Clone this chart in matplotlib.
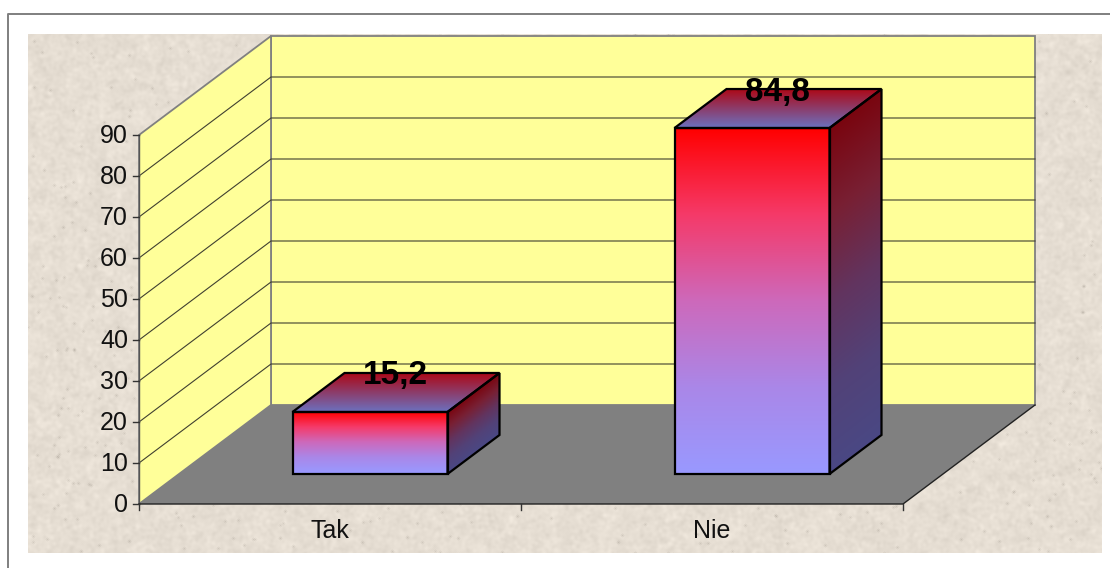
import numpy as np
import matplotlib
matplotlib.use("Agg")
import matplotlib.pyplot as plt
from matplotlib.patches import Polygon, Rectangle

categories = ["Tak", "Nie"]
values = [15.2, 84.8]
value_labels = ["15,2", "84,8"]
y_ticks = [0, 10, 20, 30, 40, 50, 60, 70, 80, 90]

plt.rcParams['font.family'] = ['Liberation Sans', 'DejaVu Sans']

# chart geometry in image pixels
X0, X1 = 139, 903
Y0, Y_SCALE = 504, 4.1
DX, DY = 132, -99
BAR_SCALE = 4.08
BAR_DX, BAR_DY = 52, -39
BAR_FRONT_DX, BAR_FRONT_DY = 40, -30
BAR_WIDTH = 155

# gradient stops, evenly spaced from start to end
FRONT = np.array([[255, 0, 0], [245, 58, 105], [205, 105, 187], [170, 135, 232], [153, 153, 255]])
TOP = np.array([[172, 10, 25], [108, 112, 190]])
SIDE = np.array([[122, 5, 15], [120, 32, 52], [98, 52, 95], [82, 66, 120], [74, 72, 132]])


def ypix(v):
    return Y0 - v * Y_SCALE


def gradient_face(ax, pts, t_func, stops):
    xs, ys = zip(*pts)
    x_min, x_max, y_min, y_max = min(xs), max(xs), min(ys), max(ys)
    gx, gy = np.meshgrid(np.arange(x_min, x_max + 1), np.arange(y_min, y_max + 1))
    t = np.clip(t_func(gx, gy), 0, 1)
    pos = np.linspace(0, 1, len(stops))
    img = np.dstack([np.interp(t, pos, stops[:, c]) for c in range(3)]) / 255
    im = ax.imshow(img, extent=(x_min, x_max, y_max, y_min), aspect="auto", zorder=3)
    im.set_clip_path(Polygon(pts, transform=ax.transData))
    ax.add_patch(Polygon(pts, closed=True, fill=False, ec="black", lw=1.6, zorder=4))


def blur(a, n):
    for _ in range(n):
        a = (a + np.roll(a, 1, 0) + np.roll(a, -1, 0) + np.roll(a, 1, 1) + np.roll(a, -1, 1)) / 5
    return a


def texture(h, w):
    # speckled paper look for the backdrop only
    rng = np.random.default_rng(7)
    fine = blur(rng.normal(0, 1, (h, w)), 5)
    wide = blur(rng.normal(0, 1, (h, w)), 40)
    spots = blur((rng.random((h, w)) > 0.9985).astype(float), 2)
    out = 13 * fine + 22 * wide - 110 * spots
    base = np.array([230, 222, 211])
    return np.clip(base + out[..., None], 0, 255) / 255


fig = plt.figure(figsize=(11.1, 5.68), dpi=100)
ax = fig.add_axes([0, 0, 1, 1])

# outer frame and backdrop
ax.plot([8, 8, 1110], [568, 14, 14], color="#7f7f7f", lw=1.4, zorder=1)
ax.imshow(texture(519, 1074), extent=(28, 1102, 553, 34), aspect="auto", zorder=1)

y_top = ypix(90)
# back wall, side wall, floor
ax.add_patch(Rectangle((X0 + DX, y_top + DY), X1 - X0, Y0 - y_top, fc="#FFFF99", ec="#808080", lw=1.3, zorder=2))
ax.add_patch(Polygon([(X0, Y0), (X0, y_top), (X0 + DX, y_top + DY), (X0 + DX, Y0 + DY)],
                     fc="#FFFF99", ec="#808080", lw=1.3, zorder=2))
ax.add_patch(Polygon([(X0, Y0), (X0 + DX, Y0 + DY), (X1 + DX, Y0 + DY), (X1, Y0)],
                     fc="#808080", ec="none", zorder=2))

# gridlines on both walls
for v in y_ticks[1:-1]:
    y = ypix(v)
    ax.plot([X0, X0 + DX, X1 + DX], [y, y + DY, y + DY], color="#404030", lw=0.8, zorder=2)

# axes and ticks
ax.plot([X0, X0], [Y0, y_top], color="#555555", lw=1.0, zorder=2)
ax.plot([X0, X1, X1 + DX], [Y0, Y0, Y0 + DY], color="#222222", lw=1.0, zorder=2)
for v in y_ticks:
    ax.plot([X0 - 6, X0], [ypix(v), ypix(v)], color="#333333", lw=1.0, zorder=2)
    ax.text(X0 - 11, ypix(v) + 1, str(v), ha="right", va="center", fontsize=18, color="#111111", zorder=5)

cat_width = (X1 - X0) / len(categories)
for i in range(len(categories) + 1):
    x = X0 + i * cat_width
    ax.plot([x, x], [Y0, Y0 + 6], color="#333333", lw=1.0, zorder=2)

for i, (cat, val, lab) in enumerate(zip(categories, values, value_labels)):
    ax.text(X0 + (i + 0.5) * cat_width, 531, cat, ha="center", va="center", fontsize=18,
            color="#111111", zorder=5)

    left = X0 + BAR_FRONT_DX + (i + 0.5) * cat_width - BAR_WIDTH / 2
    right = left + BAR_WIDTH
    bottom = Y0 + BAR_FRONT_DY
    top = bottom - val * BAR_SCALE

    # top face, fades from the back edge to the front edge
    gradient_face(ax, [(left, top), (left + BAR_DX, top + BAR_DY), (right + BAR_DX, top + BAR_DY), (right, top)],
                  lambda gx, gy: (gy - (top + BAR_DY)) / -BAR_DY, TOP)
    # side face, gradient follows the slant of the face
    gradient_face(ax, [(right, top), (right + BAR_DX, top + BAR_DY), (right + BAR_DX, bottom + BAR_DY), (right, bottom)],
                  lambda gx, gy: (gy - top + (gx - right) * -BAR_DY / BAR_DX) / (bottom - top), SIDE)
    # front face
    gradient_face(ax, [(left, top), (right, top), (right, bottom), (left, bottom)],
                  lambda gx, gy: (gy - top) / (bottom - top), FRONT)

    ax.text(left + BAR_WIDTH / 2 + 25, top - 36, lab, ha="center", va="center", fontsize=24,
            fontweight="bold", color="black", zorder=6)

ax.set_xlim(0, 1110)
ax.set_ylim(568, 0)
ax.axis("off")

fig.savefig("out.png", dpi=100, facecolor="white")
